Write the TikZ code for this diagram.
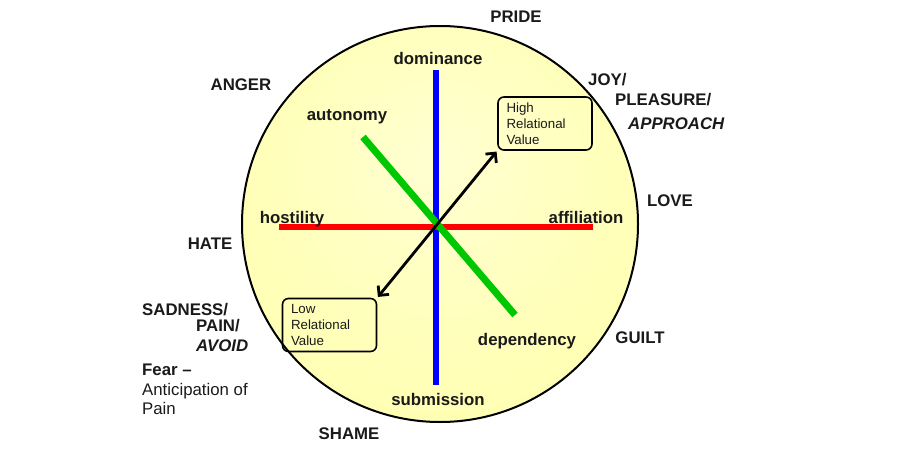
\documentclass[tikz,border=0pt]{standalone}
\usepackage{fontspec}
\setmainfont{Liberation Sans}
\usepackage{xcolor}
\definecolor{cInk}{HTML}{1A1A1A}
\definecolor{cDisc}{RGB}{255,255,165}
\definecolor{cDom}{HTML}{0000FF}
\definecolor{cAff}{HTML}{FF0000}
\definecolor{cAut}{HTML}{00C800}
\usepackage{tikz}
\usetikzlibrary{arrows.meta}
\pgfdeclareradialshading{disc-shade}{\pgfpoint{0bp}{8bp}}{%
  color(0bp)=(white!50!cDisc); color(20bp)=(white!25!cDisc);
  color(50bp)=(cDisc); color(100bp)=(cDisc)}
\tikzset{
  disc/.style={circle,draw=black,line width=2pt,shading=disc-shade,
    minimum size=396pt,inner sep=0pt},
  axis-label/.style={font=\bfseries\fontsize{16.8}{19}\selectfont,
    text=cInk,inner sep=0pt,anchor=base},
  emotion/.style={axis-label},
  emotion-left/.style={axis-label,anchor=base west},
  note/.style={font=\fontsize{16.8}{19}\selectfont,text=cInk,
    inner sep=0pt,anchor=base west},
  rel-box/.style={draw=black,line width=1.6pt,rounded corners=6pt,
    text width=77pt,minimum height=53pt,inner xsep=8.5pt,align=left,
    font=\fontsize{13.3}{16}\selectfont,text=cInk},
  axis-line/.style={line width=6pt},
  arrow-rel/.style={{Straight Barb[length=7pt,width=14pt]}-{Straight Barb[length=7pt,width=14pt]},
    line width=2.8pt,draw=black},
}
\begin{document}
\begin{tikzpicture}[x=1pt,y=-1pt]
  \useasboundingbox (0,0) rectangle (900,460);
  \node[disc] (wheel) at (440,224) {};
  % axis ends
  \coordinate (dom-top) at (436,70);
  \coordinate (dom-bot) at (436,385);
  \coordinate (aff-left) at (279,227);
  \coordinate (aff-right) at (593,227);
  \coordinate (aut-top) at (363,137);
  \coordinate (aut-bot) at (515,315);
  \draw[axis-line,draw=cDom] (dom-top) -- (dom-bot);
  \draw[axis-line,draw=cAff] (aff-left) -- (aff-right);
  \draw[axis-line,draw=cAut,line width=7pt] (aut-top) -- (aut-bot);
  \foreach \name/\x/\y/\txt in {dominance/438/65/dominance, autonomy/347/120/autonomy,
      hostility/292/223/hostility, affiliation/586/223/affiliation,
      dependency/527/345/dependency, submission/438/405/submission}
    \node[axis-label] (\name) at (\x,\y) {\txt};
  \node[rel-box] (high) at (545,123.5) {High\\Relational\\Value};
  \node[rel-box] (low) at (329.5,325) {Low\\Relational\\Value};
  \draw[arrow-rel,shorten <=1pt,shorten >=1pt] (low.north east) -- (high.south west);
  % emotions round the wheel
  \foreach \name/\x/\y/\txt in {pride/516/23/PRIDE, anger/241/91/ANGER,
      love/670/206/LOVE, hate/210/249/HATE, guilt/640/343/GUILT, shame/349/439/SHAME}
    \node[emotion] (\name) at (\x,\y) {\txt};
  \node[emotion-left] (joy) at (588,85) {JOY/};
  \node[emotion-left] (pleasure) at (615,106) {PLEASURE/};
  \node[emotion-left] (approach) at (628,129) {\itshape APPROACH};
  \node[emotion-left] (sadness) at (142,315) {SADNESS/};
  \node[emotion-left] (pain) at (196,331) {PAIN/};
  \node[emotion-left] (avoid) at (196,351) {\itshape AVOID};
  \node[emotion-left] (fear) at (142,375) {Fear –};
  \node[note] (anticipation) at (142,395) {Anticipation of};
  \node[note] (pain-note) at (142,414) {Pain};
\end{tikzpicture}
\end{document}
